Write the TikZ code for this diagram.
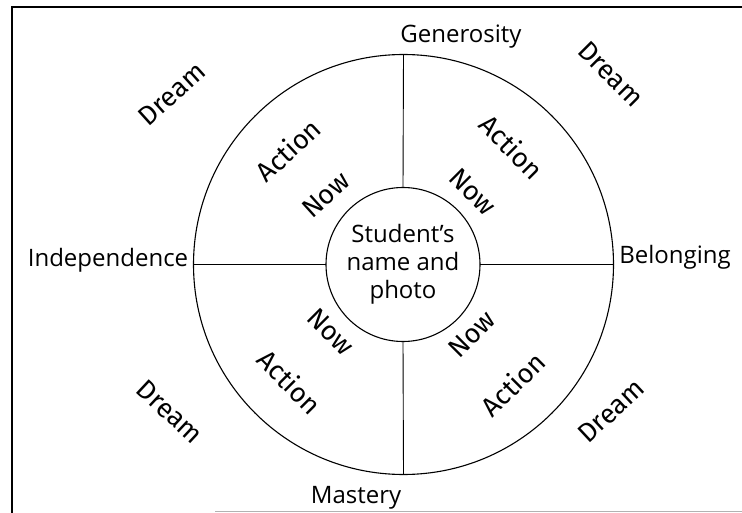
\documentclass[tikz,border=0pt]{standalone}
\usepackage{fontspec}
\setmainfont{Open Sans}
\newfontfamily\handfont{Fira Sans}
\begin{document}
\begin{tikzpicture}[x=1pt,y=-1pt,
  lbl/.style={font=\fontsize{24}{28}\selectfont, anchor=base, inner sep=0pt},
  hand/.style={font=\handfont\fontsize{27}{30}\selectfont, inner sep=0pt},
  ring/.style={circle, draw, line width=1.1pt, inner sep=0pt, outer sep=0pt},
  spoke/.style={line width=0.9pt}]
\useasboundingbox (0,0) rectangle (742,513);
% page frame
\draw[line width=1.6pt] (12,513) -- (12,7) -- (742,7);
\draw[gray!60, line width=1pt] (215,511.5) -- (742,511.5);

% rings
\node[ring, minimum size=420pt] (outer) at (403.5,264.5) {};
\node[ring, minimum size=154pt, align=center,
      font=\fontsize{24}{28}\selectfont] (inner) at (403,264.5)
      {Student’s\\name and\\photo};

% spokes
\draw[spoke] (outer.north) -- (inner.north);
\draw[spoke] (inner.south) -- (outer.south);
\draw[spoke] (outer.west) -- (inner.west);
\draw[spoke] (inner.east) -- (outer.east);

% quadrant names
\node[lbl] (gen) at (461,43) {Generosity};
\node[lbl] (ind) at (108,266) {Independence};
\node[lbl] (bel) at (675,264) {Belonging};
\node[lbl] (mas) at (356,503) {Mastery};

% upper left
\node[hand, rotate=42] (ulD) at (172,94) {Dream};
\node[hand, rotate=43] (ulA) at (288,150) {Action};
\node[hand, rotate=42] (ulN) at (326,195) {Now};
% upper right
\node[hand, rotate=-45] (urD) at (611,74) {Dream};
\node[hand, rotate=-45] (urA) at (512,147) {Action};
\node[hand, rotate=-45] (urN) at (473,192) {Now};
% lower left
\node[hand, rotate=-45] (llN) at (331,332) {Now};
\node[hand, rotate=-45] (llA) at (290,382) {Action};
\node[hand, rotate=-43] (llD) at (170,412) {Dream};
% lower right
\node[hand, rotate=45] (lrN) at (472,334) {Now};
\node[hand, rotate=45] (lrA) at (513,384) {Action};
\node[hand, rotate=43] (lrD) at (611,411) {Dream};
\end{tikzpicture}
\end{document}
